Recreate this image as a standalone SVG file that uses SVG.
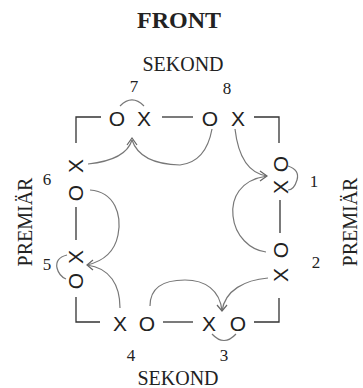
<svg xmlns="http://www.w3.org/2000/svg" width="363" height="388" viewBox="0 0 363 388">
<style>
.t{font-family:"Liberation Serif","Times New Roman",serif;fill:#222;}
.title{font-size:24px;font-weight:bold;text-anchor:middle;}
.lab{font-size:20px;text-anchor:middle;}
.num{font-size:17px;text-anchor:middle;}
.p{font-family:"Liberation Sans",Arial,sans-serif;font-size:21px;fill:#222;text-anchor:middle;dominant-baseline:central;}
.ln{stroke:#333;stroke-width:1.3;fill:none;}
.cv{stroke:#777;stroke-width:1.2;fill:none;}
.ah{stroke:#666;stroke-width:1.2;fill:none;}
</style>
<rect width="363" height="388" fill="#fff"/>
<text class="t title" x="179" y="28">FRONT</text>
<text class="t lab" x="183" y="71">SEKOND</text>
<text class="t lab" x="178" y="385">SEKOND</text>
<text class="t lab" transform="translate(32,222) rotate(-90)">PREMIÄR</text>
<text class="t lab" transform="translate(357,222) rotate(-90)">PREMIÄR</text>

<g id="pos7"><text class="p" x="117" y="118">O</text><text class="p" x="144" y="118">X</text><text class="t num" x="134" y="92">7</text></g>
<g id="pos8"><text class="p" x="210" y="118">O</text><text class="p" x="238" y="118">X</text><text class="t num" x="227" y="94">8</text></g>
<g id="pos1"><text class="p" transform="rotate(-90 280 164)" x="280" y="164">O</text><text class="p" transform="rotate(-90 280 187)" x="280" y="187">X</text><text class="t num" x="314" y="187">1</text></g>
<g id="pos2"><text class="p" transform="rotate(-90 280 250)" x="280" y="250">O</text><text class="p" transform="rotate(-90 280 275)" x="280" y="275">X</text><text class="t num" x="316" y="268">2</text></g>
<g id="pos3"><text class="p" x="209" y="323">X</text><text class="p" x="238" y="323">O</text><text class="t num" x="224" y="361">3</text></g>
<g id="pos4"><text class="p" x="120" y="323">X</text><text class="p" x="147" y="323">O</text><text class="t num" x="131" y="361">4</text></g>
<g id="pos5"><text class="p" transform="rotate(-90 75 257)" x="75" y="257">X</text><text class="p" transform="rotate(-90 75 281)" x="75" y="281">O</text><text class="t num" x="47" y="270">5</text></g>
<g id="pos6"><text class="p" transform="rotate(-90 75 166)" x="75" y="166">X</text><text class="p" transform="rotate(-90 75 193)" x="75" y="193">O</text><text class="t num" x="47" y="185">6</text></g>

<g id="lines">
<path class="ln" d="M101 117H76V143"/>
<path class="ln" d="M254 117H279V143"/>
<path class="ln" d="M76 297V322H100"/>
<path class="ln" d="M279 298V322H254"/>
<path class="ln" d="M162 117H193"/>
<path class="ln" d="M163 322H193"/>
<path class="ln" d="M76 207V240"/>
<path class="ln" d="M280 200V233"/>
</g>

<g id="connectors">
<path class="cv" d="M120 106Q132 94 144 106"/>
<path class="cv" d="M288 166Q300 170 297 180Q294 190 288 190"/>
<path class="cv" d="M67 255Q55 258 57 268Q59 276 66 279"/>
<path class="cv" d="M212 334Q224 347 236 334"/>
<path class="cv" d="M88 164Q126 160 132 140"/>
<path class="cv" d="M132 140Q140 164 180 165Q206 162 212 129"/>
<path class="ah" d="M127 145L132 138L137 145"/>
<path class="cv" d="M235 129Q240 172 267 176"/>
<path class="cv" d="M267 176C240 180 231 198 233 216C235 236 250 250 266 252"/>
<path class="ah" d="M260 171L267 176L260 181"/>
<path class="cv" d="M150 306C150 287 165 280 185 280C205 280 220 290 222 311"/>
<path class="cv" d="M268 278C245 280 225 290 222 311"/>
<path class="ah" d="M217 305L222 311L227 305"/>
<path class="cv" d="M90 190C115 192 122 215 118 235C114 255 100 262 87 265"/>
<path class="cv" d="M120 308C120 285 110 268 87 265"/>
<path class="ah" d="M93 260L87 265L93 270"/>
</g>
</svg>
